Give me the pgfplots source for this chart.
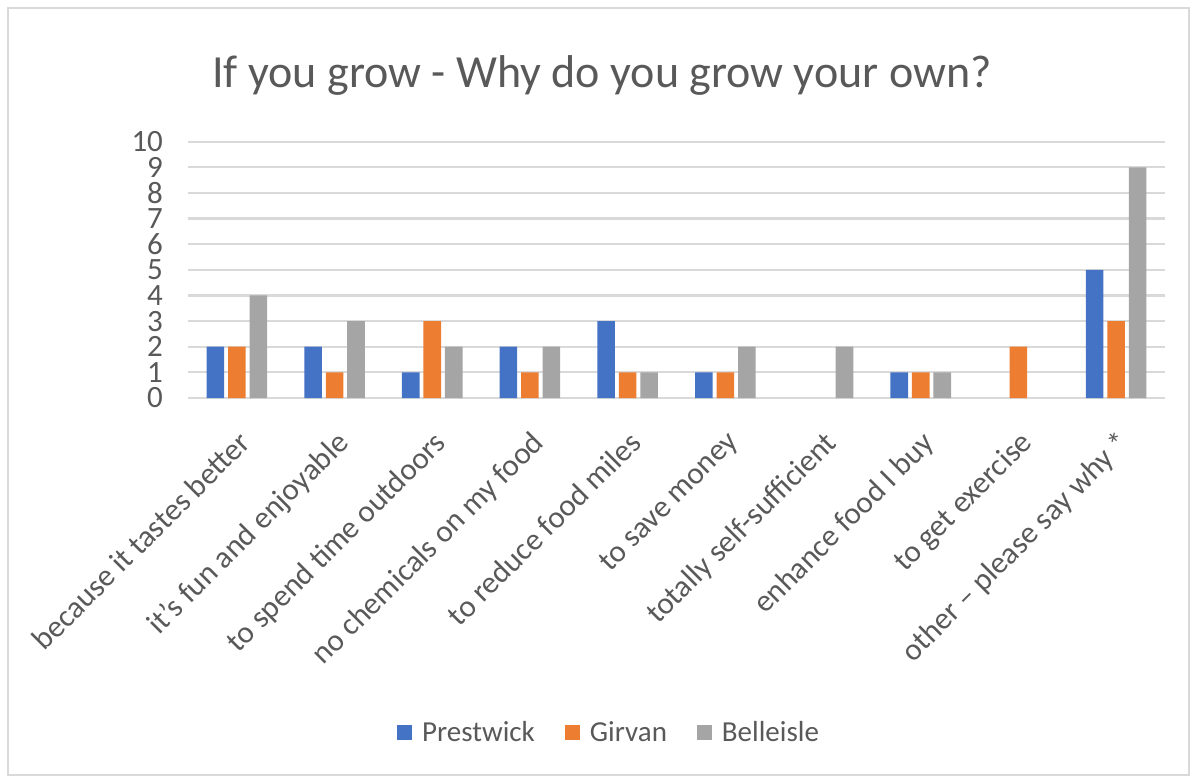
\documentclass[border=0pt]{standalone}
\usepackage{pgfplots}
\pgfplotsset{compat=1.18}
\usepackage{fontspec}
\setmainfont{Carlito}
\definecolor{cblue}{HTML}{4472C4}
\definecolor{corange}{HTML}{ED7D31}
\definecolor{cgray}{HTML}{A5A5A5}
\definecolor{gridc}{HTML}{D9D9D9}
\definecolor{txt}{HTML}{595959}
\pgfplotstableread{
x P G B
0 2 2 4
1 2 1 3
2 1 3 2
3 2 1 2
4 3 1 1
5 1 1 2
6 0 0 2
7 1 1 1
8 0 2 0
9 5 3 9
}\datatable
\begin{document}
\begin{tikzpicture}[x=1pt,y=1pt]
\useasboundingbox (0,0) rectangle (598,391.5);
\draw[gridc, line width=1pt] (4,4) rectangle (594.5,387.5);
\node[anchor=base, font=\fontsize{23}{28}\selectfont, text=txt] at (301,347.5) {If you grow - Why do you grow your own?};
\begin{axis}[
  at={(94pt,192.5pt)}, anchor=south west,
  scale only axis, width=488.5pt, height=128.15pt,
  xmin=-0.5, xmax=9.5, ymin=0, ymax=10,
  ybar, bar width=0.18,
  xtick={0,1,...,9},
  xticklabels={because it tastes better, it’s fun and enjoyable, to spend time outdoors, no chemicals on my food, to reduce food miles, to save money, totally self-sufficient, enhance food I buy, to get exercise, other – please say why *},
  ytick={0,1,...,10},
  axis line style={draw=none},
  major tick length=0pt,
  ymajorgrids, grid style={gridc, line width=1.1pt},
  yticklabel style={font=\fontsize{15.5}{17}\selectfont, text=txt, xshift=-9pt},
  /pgf/number format/assume math mode=true,
  xticklabel style={font=\fontsize{15.5}{17}\selectfont, text=txt, xshift=0pt, yshift=-14pt, rotate=45, anchor=north east, inner sep=1pt},
  legend columns=-1,
  legend style={at={(0.432,-1.307)}, anchor=center, draw=none, fill=none,
    font=\fontsize{14.5}{16}\selectfont, text=txt,
    /tikz/every odd column/.append style={column sep=3pt},
    /tikz/every even column/.append style={column sep=13pt}},
  legend image code/.code={\fill[#1] (0pt,-3.75pt) rectangle (7.5pt,3.75pt);},
  y filter/.expression={y==0 ? nan : y},
  unbounded coords=discard,
]
\draw[gridc, line width=1.1pt] (axis cs:-0.5,0) -- (axis cs:9.5,0);
\addplot[fill=cblue, draw=none, bar shift=-0.22] table[x=x,y=P]{\datatable};
\addplot[fill=corange, draw=none, bar shift=0] table[x=x,y=G]{\datatable};
\addplot[fill=cgray, draw=none, bar shift=0.22] table[x=x,y=B]{\datatable};
\legend{Prestwick, Girvan, Belleisle}
\end{axis}
\end{tikzpicture}
\end{document}
